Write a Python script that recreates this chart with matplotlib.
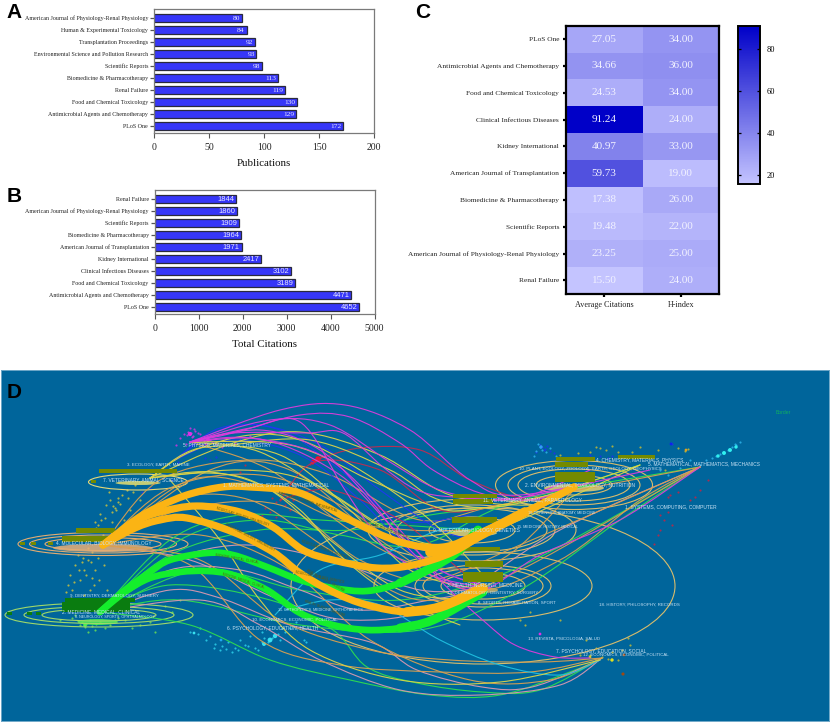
""" Journal bar charts, citation heatmap and dual-map overlay """

import numpy as np
import matplotlib
matplotlib.use('Agg')
import matplotlib.pyplot as plt
from matplotlib.colors import LinearSegmentedColormap
from matplotlib.cm import ScalarMappable
from matplotlib.colors import Normalize
from matplotlib.patches import Ellipse, PathPatch, Rectangle
from matplotlib.path import Path

## Data

pub_journals = ['PLoS One', 'Antimicrobial Agents and Chemotherapy', 'Food and Chemical Toxicology',
                'Renal Failure', 'Biomedicine & Pharmacotherapy', 'Scientific Reports',
                'Environmental Science and Pollution Research', 'Transplantation Proceedings',
                'Human & Experimental Toxicology', 'American Journal of Physiology-Renal Physiology']
pub_counts = [172, 129, 130, 119, 113, 98, 93, 92, 84, 80]

cit_journals = ['PLoS One', 'Antimicrobial Agents and Chemotherapy', 'Food and Chemical Toxicology',
                'Clinical Infectious Diseases', 'Kidney International', 'American Journal of Transplantation',
                'Biomedicine & Pharmacotherapy', 'Scientific Reports',
                'American Journal of Physiology-Renal Physiology', 'Renal Failure']
cit_counts = [4652, 4471, 3189, 3102, 2417, 1971, 1964, 1909, 1860, 1844]

avg_citations = [27.05, 34.66, 24.53, 91.24, 40.97, 59.73, 17.38, 19.48, 23.25, 15.50]
h_index = [34, 36, 34, 24, 33, 19, 26, 22, 25, 24]
heat_columns = ['Average Citations', 'H-index']

# -- Dual map, everything in picture coordinates

orange_flows = [
    [(103, 545), (135, 520), (160, 506), (190, 494), (223, 487), (250, 487), (300, 493), (350, 520), (400, 542),
     (443, 547), (480, 533), (530, 510), (574, 487)],
    [(103, 545), (135, 522), (160, 512), (197, 506), (240, 512), (273, 527), (303, 550), (333, 560), (377, 568),
     (413, 565), (453, 552), (490, 530), (530, 510), (574, 487)],
    [(103, 545), (135, 528), (160, 520), (187, 518), (233, 532), (273, 552), (300, 573), (333, 592), (367, 605),
     (407, 612), (440, 607), (483, 588)],
]
orange_tails = [
    [(407, 612), (440, 607), (483, 588)],
    [(430, 552), (460, 545), (490, 530), (525, 512)],
]
green_flows = [
    [(100, 612), (125, 590), (150, 572), (170, 560), (207, 553), (233, 555), (267, 567), (300, 580), (333, 588),
     (367, 591), (400, 583), (433, 567), (457, 552), (478, 530)],
    [(100, 612), (125, 592), (150, 578), (180, 572), (207, 571), (233, 575), (267, 590), (300, 613), (333, 625),
     (367, 630), (400, 628), (433, 620), (483, 592)],
]
green_tails = [
    [(400, 628), (433, 620), (483, 592)],
    [(400, 583), (433, 567), (457, 552), (478, 530)],
]

magenta_lines = [
    [(190, 442), (233, 433), (300, 415), (350, 417), (400, 443), (433, 470), (480, 493), (530, 500), (574, 487)],
    [(190, 442), (233, 433), (307, 433), (343, 433), (383, 467), (417, 490), (453, 497), (520, 498), (590, 470)],
    [(190, 442), (250, 428), (300, 422), (343, 487), (367, 523), (387, 550), (430, 575), (483, 588)],
    [(190, 442), (260, 430), (320, 450), (370, 500), (410, 550), (450, 582), (483, 590)],
    [(190, 442), (250, 438), (330, 460), (400, 530), (440, 580), (485, 622), (515, 645), (555, 657), (590, 658)],
    [(190, 442), (280, 410), (345, 405), (410, 430), (470, 480), (520, 495), (650, 470)],
    [(190, 442), (270, 420), (330, 425), (390, 462), (440, 490), (500, 500), (574, 487)],
    [(190, 442), (265, 440), (340, 475), (395, 530), (440, 570), (483, 585)],
    [(440, 580), (483, 590), (540, 555), (620, 520), (700, 467)],
]
yellow_lines = [
    [(150, 478), (190, 452), (250, 435), (300, 440), (360, 470), (430, 520), (483, 575)],
    [(150, 478), (200, 448), (280, 455), (350, 510), (410, 570), (483, 590)],
    [(150, 478), (210, 472), (270, 490), (330, 540), (400, 590), (470, 600)],
    [(150, 478), (230, 444), (300, 432), (380, 455), (450, 495), (530, 505), (574, 490)],
    [(150, 478), (240, 470), (310, 482), (390, 530), (450, 545), (520, 520), (640, 465)],
    [(170, 480), (220, 540), (260, 600), (310, 650), (400, 680), (500, 682), (600, 660)],
    [(190, 442), (260, 452), (340, 500), (400, 535), (470, 530)],
    [(150, 478), (205, 473), (250, 480), (300, 510), (345, 560), (400, 600), (460, 625)],
    [(190, 442), (290, 445), (370, 480), (430, 505), (470, 510), (574, 490)],
    [(230, 445), (310, 440), (390, 470), (440, 500), (510, 505), (640, 465)],
]
tan_lines = [
    [(103, 545), (170, 488), (260, 475), (340, 505), (420, 560), (483, 588)],
    [(103, 545), (180, 510), (280, 505), (360, 560), (430, 580), (520, 545), (700, 467)],
    [(103, 545), (170, 500), (250, 500), (330, 550), (420, 600), (520, 570), (700, 467)],
    [(103, 545), (200, 535), (290, 570), (370, 640), (470, 680), (550, 680), (602, 658)],
    [(103, 545), (190, 565), (260, 640), (340, 665), (440, 672), (530, 672), (602, 658)],
    [(190, 442), (270, 470), (350, 530), (420, 565), (500, 560), (574, 490)],
    [(103, 545), (160, 480), (250, 460), (330, 475), (420, 520), (500, 505), (700, 467)],
    [(103, 545), (190, 480), (270, 490), (340, 520), (410, 530), (472, 530)],
    [(103, 545), (210, 470), (290, 470), (380, 540), (470, 590), (560, 560), (640, 500), (700, 467)],
    [(103, 545), (200, 560), (280, 620), (370, 650), (450, 660), (540, 662), (602, 658)],
]
pink_lines = [
    [(100, 612), (170, 570), (240, 570), (300, 590), (360, 610), (430, 600), (483, 590)],
    [(100, 612), (170, 590), (220, 598), (290, 625), (373, 643), (417, 670), (482, 687), (532, 687), (600, 660)],
    [(100, 612), (200, 600), (260, 625), (320, 660), (400, 690), (480, 695), (560, 685), (602, 658)],
    [(103, 545), (190, 560), (280, 600), (350, 620), (440, 605), (560, 530), (700, 467)],
    [(100, 612), (160, 565), (240, 545), (330, 560), (420, 590), (483, 588)],
]
lime_lines = [
    [(100, 612), (180, 540), (260, 520), (340, 535), (420, 545), (520, 500), (700, 467)],
    [(100, 612), (170, 555), (260, 530), (350, 530), (430, 515), (530, 500), (640, 465)],
    [(100, 612), (170, 585), (270, 600), (333, 630), (367, 667), (417, 683), (482, 692), (540, 690), (602, 658)],
    [(100, 612), (190, 625), (270, 660), (350, 680), (430, 695), (500, 695), (575, 670), (602, 658)],
    [(100, 612), (200, 570), (300, 590), (400, 600), (500, 575), (590, 530), (700, 467)],
    [(100, 612), (180, 600), (300, 625), (420, 630), (520, 590), (620, 520), (700, 467)],
    [(100, 612), (170, 540), (240, 515), (320, 520), (400, 525), (472, 530)],
]
blue_lines = [
    [(175, 460), (215, 432), (260, 425), (320, 445), (380, 490), (440, 530), (480, 540)],
    [(175, 460), (230, 440), (300, 455), (360, 500), (420, 560), (480, 585)],
    [(175, 460), (220, 428), (280, 430), (340, 470), (400, 520), (470, 515)],
]
red_lines = [
    [(315, 460), (360, 448), (420, 450), (470, 480), (530, 500), (574, 490)],
    [(280, 500), (315, 462), (380, 470), (440, 510), (500, 505), (574, 490)],
    [(280, 500), (330, 490), (400, 520), (460, 570), (483, 588)],
]
cyan_lines = [
    [(275, 615), (320, 570), (380, 555), (440, 530), (478, 530)],
    [(285, 610), (330, 600), (380, 605), (440, 640), (500, 665), (560, 675), (600, 660)],
]

left_rings_x = [103, 103, 103, 138, 99, 99, 99]
left_rings_y = [544, 544, 544, 482, 615, 615, 615]
left_rings_w = [170, 147, 116, 99, 188, 150, 114]
left_rings_h = [23, 18, 13, 16, 24, 17, 12]
left_rings_c = ['#e2ac72', '#e2ac72', '#e2ac72', '#e6d878', '#9ed86a', '#9ed86a', '#9ed86a']

right_rings_x = [574, 574, 574, 574, 472, 472, 472, 472, 483, 483, 483, 483, 483]
right_rings_y = [485, 485, 485, 485, 530, 530, 530, 530, 586, 586, 586, 586, 586]
right_rings_w = [157, 132, 112, 76, 208, 166, 150, 86, 384, 218, 136, 120, 84]
right_rings_h = [49, 40, 32, 20, 62, 50, 44, 26, 156, 68, 42, 36, 26]

glow_x = [103, 138, 98, 574, 472, 483]
glow_y = [548, 483, 622, 488, 533, 590]
glow_w = [100, 45, 40, 60, 50, 30]
glow_h = [8, 4, 6, 8, 7, 6]
glow_c = ['#eab078', '#e8e070', '#50f050', '#e8d070', '#e8d070', '#d0b060']

olive_x0 = [99, 76, 62, 556, 555, 555, 618, 453, 453, 452, 465, 465, 463, 20, 31, 48, 91]
olive_x1 = [177, 115, 113, 595, 588, 595, 655, 497, 493, 497, 500, 503, 503, 25, 36, 53, 96]
olive_y0 = [469, 528, 536, 457, 462, 472, 455, 494, 499, 517, 547, 561, 572, 542, 542, 542, 480]
olive_y1 = [473, 533, 542, 461, 467, 482, 459, 498, 504, 523, 551, 567, 582, 545, 545, 545, 483]
dark_green_x0 = [65, 62, 7, 27, 36]
dark_green_x1 = [135, 130, 12, 32, 41]
dark_green_y0 = [598, 602, 612, 612, 612]
dark_green_y1 = [602, 612, 615, 615, 615]

big_labels = ['5. PHYSICS, MATERIALS, CHEMISTRY', '7. VETERINARY, ANIMAL, SCIENCE',
              '1. MATHEMATICS, SYSTEMS, MATHEMATICAL', '4. MOLECULAR, BIOLOGY, IMMUNOLOGY',
              '2. MEDICINE, MEDICAL, CLINICAL', '6. PSYCHOLOGY, EDUCATION, HEALTH',
              '4. CHEMISTRY, MATERIALS, PHYSICS', '2. ENVIRONMENTAL, TOXICOLOGY, NUTRITION',
              '1. SYSTEMS, COMPUTING, COMPUTER', '9. MOLECULAR, BIOLOGY, GENETICS',
              '3. HEALTH, NURSING, MEDICINE', '7. PSYCHOLOGY, EDUCATION, SOCIAL',
              '5. MATHEMATICAL, MATHEMATICS, MECHANICS', '11. VETERINARY, ANIMAL, PARASITOLOGY']
big_x = [183, 103, 223, 56, 62, 227, 596, 525, 625, 433, 447, 556, 648, 483]
big_y = [445, 480, 485, 543, 612, 628, 460, 485, 507, 530, 585, 651, 464, 500]

small_labels = ['3. ECOLOGY, EARTH, MARINE', '9. DENTISTRY, DERMATOLOGY, SURGERY',
                '10. ECONOMICS, ECONOMIC, POLITICAL', '10. PLANT, ECOLOGY, ZOOLOGY',
                '6. EARTH, GEOLOGY, GEOPHYSICS', '14. DERMATOLOGY, DENTISTRY, SURGERY',
                '8. SPORTS, REHABILITATION, SPORT', '18. HISTORY, PHILOSOPHY, RECORDS',
                '13. REVISTA, PSICOLOGIA, SALUD', '12. ECONOMICS, ECONOMIC, POLITICAL']
small_x = [127, 70, 252, 519, 587, 447, 478, 599, 528, 583]
small_y = [465, 596, 620, 469, 469, 593, 603, 605, 639, 655]

tiny_labels = ['8. NEUROLOGY, SPORTS, OPHTHALMOLOGY', '11. ORTHOPEDICS, MEDICINE, ORTHOPAEDICS',
               '16. FORENSICS, ANATOMY, MEDICINE', '15. MEDICINE, HISTORY, MEDICAL']
tiny_x = [75, 278, 528, 517]
tiny_y = [617, 610, 513, 527]

band_labels = ['MOLECULAR, BIOLOGY, IMMUNOLOGY', 'MOLECULAR, BIOLOGY, GENETICS',
               'MOLECULAR, BIOLOGY, IMMUNOLOGY', 'HEALTH, NURSING, MEDICINE',
               'MATHEMATICS, SYSTEMS, MATHEMATICAL', 'MOLECULAR, BIOLOGY, GENETICS',
               'MEDICINE, MEDICAL, CLINICAL', 'MOLECULAR, BIOLOGY, GENETICS',
               'MEDICINE, MEDICAL, CLINICAL', 'HEALTH, NURSING, MEDICINE']
band_x = [243, 325, 250, 325, 308, 384, 237, 320, 243, 325]
band_y = [516, 549, 537, 580, 502, 528, 558, 577, 580, 608]
band_rot = [-18, -20, -28, -29, -17, -20, -10, -12, -18, -20]

yellow_dots_x = [118, 112, 105, 122, 98, 115, 127, 108, 95, 135, 100, 88, 118, 110, 92, 84, 103, 75, 80, 90,
                 70, 78, 95, 84, 72, 100, 88, 68, 112, 124, 106, 140, 130, 98, 76, 92,
                 116, 120, 113, 109, 101, 96, 82, 86, 79, 74, 94, 104, 128, 133, 71, 66, 83, 99, 107, 91]
yellow_dots_y = [502, 512, 518, 495, 525, 508, 490, 530, 522, 485, 514, 560, 498, 500, 552, 570, 535, 565, 580,
                 590, 575, 555, 570, 595, 590, 545, 548, 585, 522, 520, 505, 500, 510, 558, 600, 578,
                 510, 504, 506, 492, 520, 528, 562, 575, 570, 582, 585, 565, 498, 492, 598, 592, 558, 580, 590, 562]
lime_dots_x = [72, 80, 90, 85, 100, 110, 125, 140, 75, 95, 118, 132, 150, 165, 180, 88, 60, 70, 155, 172,
               82, 86, 92, 78, 105, 115, 96, 128]
lime_dots_y = [618, 625, 620, 627, 622, 625, 620, 625, 615, 630, 618, 628, 622, 606, 600, 632, 620, 610, 632, 612,
               622, 624, 626, 621, 628, 620, 624, 600]
cyan_dots_x = [190, 198, 206, 215, 222, 235, 245, 255, 262, 270, 275, 280, 285, 290, 296, 300, 268, 272, 278,
               220, 232, 240, 250, 258, 210, 200, 262, 228, 304, 306, 214, 226, 238, 248, 264, 282]
cyan_dots_y = [632, 634, 640, 644, 646, 648, 645, 648, 642, 640, 636, 640, 632, 628, 622, 612, 642, 638, 634,
               650, 652, 640, 636, 650, 636, 628, 632, 642, 640, 642, 648, 649, 650, 646, 638, 628]
magenta_dots_x = [180, 184, 188, 190, 193, 196, 200, 204, 208, 212, 186, 194, 202, 176, 216, 222, 235, 240,
                  198, 192, 206, 250, 187, 191, 195, 210, 205]
magenta_dots_y = [438, 434, 432, 428, 436, 440, 434, 441, 438, 442, 444, 429, 445, 445, 444, 447, 443, 440,
                  433, 437, 443, 436, 435, 433, 431, 440, 444]
red_dots_x = [312, 315, 318, 320, 322, 310, 316, 272, 276, 280, 265, 270, 285, 290, 262, 276, 245, 250,
              240, 293, 660, 664, 668, 672, 668, 658, 650, 654, 670, 678, 690, 695, 700, 708, 660]
red_dots_y = [463, 461, 459, 457, 456, 464, 460, 498, 502, 500, 508, 512, 505, 510, 515, 517, 465, 470,
              472, 500, 515, 520, 512, 525, 497, 535, 548, 544, 495, 492, 500, 497, 490, 480, 530]
blue_dots_x = [178, 165, 172, 150, 142, 205, 210, 216, 540, 542, 544, 536, 547, 590, 600, 608, 612, 671, 672,
               545, 550, 554]
blue_dots_y = [462, 470, 480, 488, 492, 458, 460, 457, 445, 447, 450, 452, 446, 455, 456, 458, 456, 443, 444,
               449, 451, 453]
gold_dots_x = [600, 606, 612, 618, 590, 596, 640, 650, 658, 665, 678, 685, 688, 560, 578, 620, 632,
               520, 525, 530, 560, 590, 596, 602, 608, 612, 618, 622, 596, 586, 580, 630, 628]
gold_dots_y = [448, 450, 446, 452, 452, 447, 447, 458, 450, 470, 448, 451, 449, 455, 453, 458, 452,
               620, 625, 612, 620, 655, 660, 657, 659, 652, 660, 650, 648, 640, 655, 645, 638]
light_blue_dots_x = [538, 540, 542, 536, 546, 534, 550, 556, 724, 728, 732, 736, 720, 716, 712, 706, 740, 735,
                     660, 668, 680, 690, 700]
light_blue_dots_y = [444, 447, 450, 451, 452, 456, 448, 456, 452, 450, 447, 445, 454, 456, 458, 460, 442, 444,
                     470, 475, 468, 460, 465]

spot_x = [318, 313, 270, 275, 264, 736, 730, 724, 718, 190, 208, 541, 85, 612, 590, 624, 623, 540, 671, 686, 221, 194]
spot_y = [459, 462, 640, 636, 644, 447, 450, 453, 456, 434, 440, 447, 625, 660, 657, 655, 674, 634, 444, 450, 640, 633]
spot_size = [16, 12, 12, 10, 8, 6, 8, 8, 6, 9, 8, 6, 7, 6, 4, 4, 5, 4, 4, 4, 4, 4]
spot_c = ['#f01030', '#f01030', '#38e0f0', '#38e0f0', '#38e0f0', '#30f0f0', '#30f0f0', '#30f0f0', '#30f0f0',
          '#e030e8', '#e030e8', '#30a0f0', '#50f050', '#e0e020', '#d0d020', '#a04810', '#a04810', '#e030e8',
          '#1020f0', '#e0a020', '#20a8f0', '#38e0f0']

## Figure

W, H = 830, 723
fig = plt.figure(figsize=(W / 100, H / 100), dpi=100, facecolor='white')
plt.rcParams['font.family'] = ['Liberation Serif', 'DejaVu Serif']


def px_axes(x0, y0, x1, y1):
    return fig.add_axes([x0 / W, 1 - y1 / H, (x1 - x0) / W, (y1 - y0) / H])


def bar_panel(box, names, values, xmax, step, xlabel, fmt_family):
    ax = px_axes(*box)
    ypos = np.arange(len(values))
    ax.barh(ypos, values, height=0.64, color='#3636f8', edgecolor='#2a2a3c', linewidth=0.9)
    for y, v in zip(ypos, values):
        ax.text(v - xmax * 0.008, y - 0.03, str(v), color='#e8e8ff', ha='right', va='center',
                fontsize=5.4, family=fmt_family)
    ax.set_yticks(ypos, names, fontsize=4.3, color='#222222')
    ax.set_xlim(0, xmax)
    ax.set_ylim(-0.6, 9.72)
    ax.set_xticks(np.arange(0, xmax + 1, step))
    ax.tick_params(axis='x', labelsize=7, length=3.5, width=0.8, color='#555555', pad=3.5, labelcolor='#222222')
    ax.tick_params(axis='y', length=3, width=0.9, color='#555555', pad=1.5)
    ax.set_xlabel(xlabel, fontsize=7.8, labelpad=5, color='#111111')
    for s in ax.spines.values():
        s.set_color('#7a7a7a')
        s.set_linewidth(0.9)
    return ax


## Part A

bar_panel((154.3, 9.3, 374, 133.3), pub_journals, pub_counts, 200, 50, 'Publications', 'Liberation Serif')

## Part B

bar_panel((155, 190.3, 374.5, 314.3), cit_journals, cit_counts, 5000, 1000, 'Total Citations', 'Liberation Sans')

## Part C

heat_values = np.column_stack([avg_citations, h_index])
cmap = LinearSegmentedColormap.from_list('blues', ['#c4c4ff', '#0000c8'])
norm = Normalize(15.5, 91.24)

ax = px_axes(566, 25.7, 719, 293.7)
ax.pcolormesh(heat_values, cmap=cmap, norm=norm)
ax.invert_yaxis()
for i in range(heat_values.shape[0]):
    for j in range(heat_values.shape[1]):
        ax.text(j + 0.5, i + 0.5, f'{heat_values[i, j]:.2f}', color='#f2f2ff', ha='center', va='center', fontsize=8)
ax.set_xticks([0.5, 1.5], heat_columns, fontsize=5.9, color='#222222')
ax.set_yticks(np.arange(10) + 0.5, cit_journals, fontsize=5.3, color='#222222')
ax.tick_params(length=2.5, width=1.6, color='black', pad=2.5)
for s in ax.spines.values():
    s.set_linewidth(1.6)

cax = px_axes(737.5, 26, 759.5, 184)
cb = fig.colorbar(ScalarMappable(norm=norm, cmap=cmap), cax=cax)
cb.set_ticks([20, 40, 60, 80])
cb.ax.tick_params(labelsize=6, length=2.5, width=0.9, direction='in', left=True, right=True, pad=5)
cb.outline.set_linewidth(1.4)

## Part D

ax = px_axes(1, 370, 829, 721)
ax.set_xlim(1, 829)
ax.set_ylim(721, 370)
ax.set_facecolor('#00659b')
ax.set_xticks([])
ax.set_yticks([])
for s in ax.spines.values():
    s.set_color('#6fa8c8')
    s.set_linewidth(0.7)


def smooth_line(points, color, lw, alpha=1.0, z=3):
    """ Smooth curve through the points, as a chain of cubic Bezier pieces. """
    p = np.array(points, dtype=float)
    q = np.vstack([p[0], p, p[-1]])
    verts = [p[0]]
    codes = [Path.MOVETO]
    for i in range(1, len(q) - 2):
        verts += [q[i] + (q[i + 1] - q[i - 1]) / 6, q[i + 1] - (q[i + 2] - q[i]) / 6, q[i + 1]]
        codes += [Path.CURVE4] * 3
    ax.add_patch(PathPatch(Path(verts, codes), fill=False, edgecolor=color, linewidth=lw, alpha=alpha,
                           capstyle='round', zorder=z))


for xs, ys, c in [(yellow_dots_x, yellow_dots_y, '#d8c838'), (lime_dots_x, lime_dots_y, '#70e850'),
                  (cyan_dots_x, cyan_dots_y, '#30d8f0'), (magenta_dots_x, magenta_dots_y, '#e030e8'),
                  (red_dots_x, red_dots_y, '#d02040'), (blue_dots_x, blue_dots_y, '#2030f0'),
                  (gold_dots_x, gold_dots_y, '#d0c030'), (light_blue_dots_x, light_blue_dots_y, '#30b8f0')]:
    ax.scatter(xs, ys, s=2.4, c=c, linewidths=0, alpha=0.8, zorder=2)
ax.scatter(spot_x, spot_y, s=spot_size, c=spot_c, linewidths=0, zorder=2)

for x, y, w, h, c in zip(glow_x, glow_y, glow_w, glow_h, glow_c):
    ax.add_patch(Ellipse((x, y), w, h, color=c, linewidth=0, alpha=0.85, zorder=2))
for x, y, w, h, c in zip(left_rings_x, left_rings_y, left_rings_w, left_rings_h, left_rings_c):
    ax.add_patch(Ellipse((x, y), w, h, fill=False, edgecolor=c, linewidth=0.8, zorder=2))
for x, y, w, h in zip(right_rings_x, right_rings_y, right_rings_w, right_rings_h):
    ax.add_patch(Ellipse((x, y), w, h, fill=False, edgecolor='#d8bc6c', linewidth=0.8, zorder=2))

for line_set, c in [(lime_lines, '#2edc50'), (pink_lines, '#d898b0'), (tan_lines, '#d8a050'),
                    (blue_lines, '#2038f0'), (red_lines, '#c02c50'), (cyan_lines, '#20c0e0'),
                    (yellow_lines, '#dcd448'), (magenta_lines, '#dc3cdc')]:
    for line in line_set:
        smooth_line(line, c, 0.8, alpha=0.95)

for x0, x1, y0, y1 in zip(olive_x0, olive_x1, olive_y0, olive_y1):
    ax.add_patch(Rectangle((x0, y0), x1 - x0, y1 - y0, color='#748a00', linewidth=0, zorder=4))
for x0, x1, y0, y1 in zip(dark_green_x0, dark_green_x1, dark_green_y0, dark_green_y1):
    ax.add_patch(Rectangle((x0, y0), x1 - x0, y1 - y0, color='#0a7c10', linewidth=0, zorder=4))

for line in green_flows:
    smooth_line(line, '#14ee2c', 4.8, z=5)
for line in green_tails:
    smooth_line(line, '#14ee2c', 6.4, z=5)
for line in orange_flows:
    smooth_line(line, '#fbb414', 5.2, z=5)
for line in orange_tails:
    smooth_line(line, '#fbb414', 7, z=5)

for t, x, y, r in zip(band_labels, band_x, band_y, band_rot):
    ax.text(x, y, t, fontsize=2.2, color='#5a5a10', rotation=r, ha='center', va='center', family='Liberation Sans',
            rotation_mode='anchor', zorder=6)

for labels, xs, ys, size in [(big_labels, big_x, big_y, 3.55), (small_labels, small_x, small_y, 3.15),
                             (tiny_labels, tiny_x, tiny_y, 2.7)]:
    for t, x, y in zip(labels, xs, ys):
        ax.text(x, y, t, fontsize=size, color='#c8e2f4', ha='left', va='center', family='Liberation Sans', zorder=7)
ax.text(776, 413, 'Border', fontsize=3.6, color='#10b060', ha='left', va='center', family='Liberation Sans')

## Panel letters

for letter, x, y in [('A', 6, 17.5), ('B', 7, 202), ('C', 415, 17.5), ('D', 7, 397.5)]:
    fig.text(x / W, 1 - y / H, letter, fontsize=15, fontweight='bold', family='Liberation Sans', color='black',
             ha='left', va='baseline')

plt.savefig('out.png', dpi=100)
